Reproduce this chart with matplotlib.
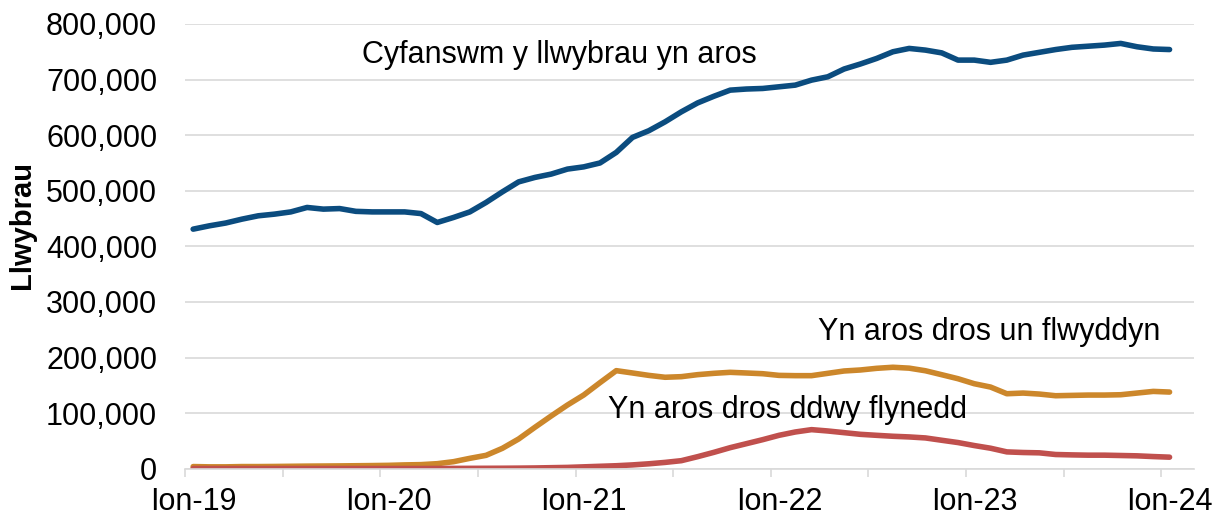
import numpy as np
import matplotlib.pyplot as plt
from matplotlib.ticker import FuncFormatter

# monthly values, Ion-19 to Ion-24 (thousands)
total = [431, 437, 442, 449, 455, 458, 462, 470, 467, 468, 463, 462,
         462, 462, 459, 443, 452, 462, 479, 498, 516, 524, 530, 539,
         543, 550, 569, 596, 608, 624, 642, 658, 670, 681, 683, 684,
         687, 690, 699, 705, 719, 728, 738, 750, 756, 753, 748, 735,
         735, 731, 735, 744, 749, 754, 758, 760, 762, 765, 759, 755, 754]
over_one_year = [4, 3.5, 3.5, 4, 4, 4.2, 4.5, 4.8, 5, 5.2, 5.5, 5.8,
                 6.2, 7, 7.5, 9.2, 12.8, 18.8, 24.2, 36.8, 53.6, 74.6, 95, 114.7,
                 132.7, 154.9, 176.5, 172.3, 168, 164.6, 165.7, 169.3, 171.7, 173.5, 172.3, 171,
                 168, 167.5, 167.5, 171.7, 175.9, 177.7, 180.7, 182.6, 181, 176.3, 169.2, 162,
                 153, 147, 135, 136.2, 134.4, 131.4, 132, 132.6, 132.6, 133.2, 136.2, 139.2, 138]
over_two_years = [0.5, 0.5, 0.5, 0.5, 0.5, 0.5, 0.5, 0.5, 0.5, 0.5, 0.5, 0.5,
                  0.5, 0.5, 0.5, 0.6, 0.7, 0.8, 0.9, 1, 1.2, 1.5, 2, 2.5,
                  3.5, 4.5, 5.5, 7, 9, 11.5, 14.6, 21.8, 29.6, 38, 45.2, 52.4,
                  60.2, 66.2, 70.4, 68, 65, 62, 60.2, 58.5, 57.3, 55.5, 51.3, 47.2,
                  41.8, 37, 30.4, 29.3, 28.7, 25.7, 25, 24.5, 24.5, 23.9, 23.3, 22, 20.9]
year_labels = ['Ion-19', 'Ion-20', 'Ion-21', 'Ion-22', 'Ion-23', 'Ion-24']

plt.rcParams['font.family'] = ['Liberation Sans', 'DejaVu Sans']

x = np.arange(len(total))

fig = plt.figure(figsize=(12.14, 5.21), dpi=100)
ax = fig.add_axes([0.1524, 0.1002, 0.8311, 0.8538])

ax.plot(x, np.array(total) * 1000, color='#0B4C7F', lw=4, solid_capstyle='round')
ax.plot(x, np.array(over_one_year) * 1000, color='#CC872B', lw=4, solid_capstyle='round')
ax.plot(x, np.array(over_two_years) * 1000, color='#C0504D', lw=4, solid_capstyle='round')

ax.set_ylim(0, 800000)
ax.set_xlim(-0.5, 61.5)
ax.set_yticks(np.arange(0, 800001, 100000))
ax.yaxis.set_major_formatter(FuncFormatter(lambda v, p: f'{int(v):,}'))
ax.grid(axis='y', color='#D9D9D9', lw=1.2)
ax.set_axisbelow(True)

# tick marks between categories, labels on January points
ax.set_xticks(np.arange(-0.5, 61, 6))
ax.set_xticklabels([])
ax.set_xticks(np.arange(0, 61, 12), minor=True)
ax.set_xticklabels(year_labels, minor=True)
ax.tick_params(axis='x', which='major', length=6, width=1.2, color='#D9D9D9')
ax.tick_params(axis='x', which='minor', length=0, pad=13, labelsize=22)
ax.tick_params(axis='y', length=0, pad=20, labelsize=22)

for s in ['top', 'right', 'left']:
    ax.spines[s].set_visible(False)
ax.spines['bottom'].set_color('#D9D9D9')
ax.spines['bottom'].set_linewidth(1.2)

ax.text(10.4, 744000, 'Cyfanswm y llwybrau yn aros', fontsize=22, va='center')
ax.text(38.4, 246000, 'Yn aros dros un flwyddyn', fontsize=22, va='center')
ax.text(25.5, 106000, 'Yn aros dros ddwy flynedd', fontsize=22, va='center')

fig.text(22 / 1214, 1 - 225 / 521, 'Llwybrau', rotation=90, fontsize=21,
         fontweight='bold', ha='center', va='center')

plt.savefig('out.png')
